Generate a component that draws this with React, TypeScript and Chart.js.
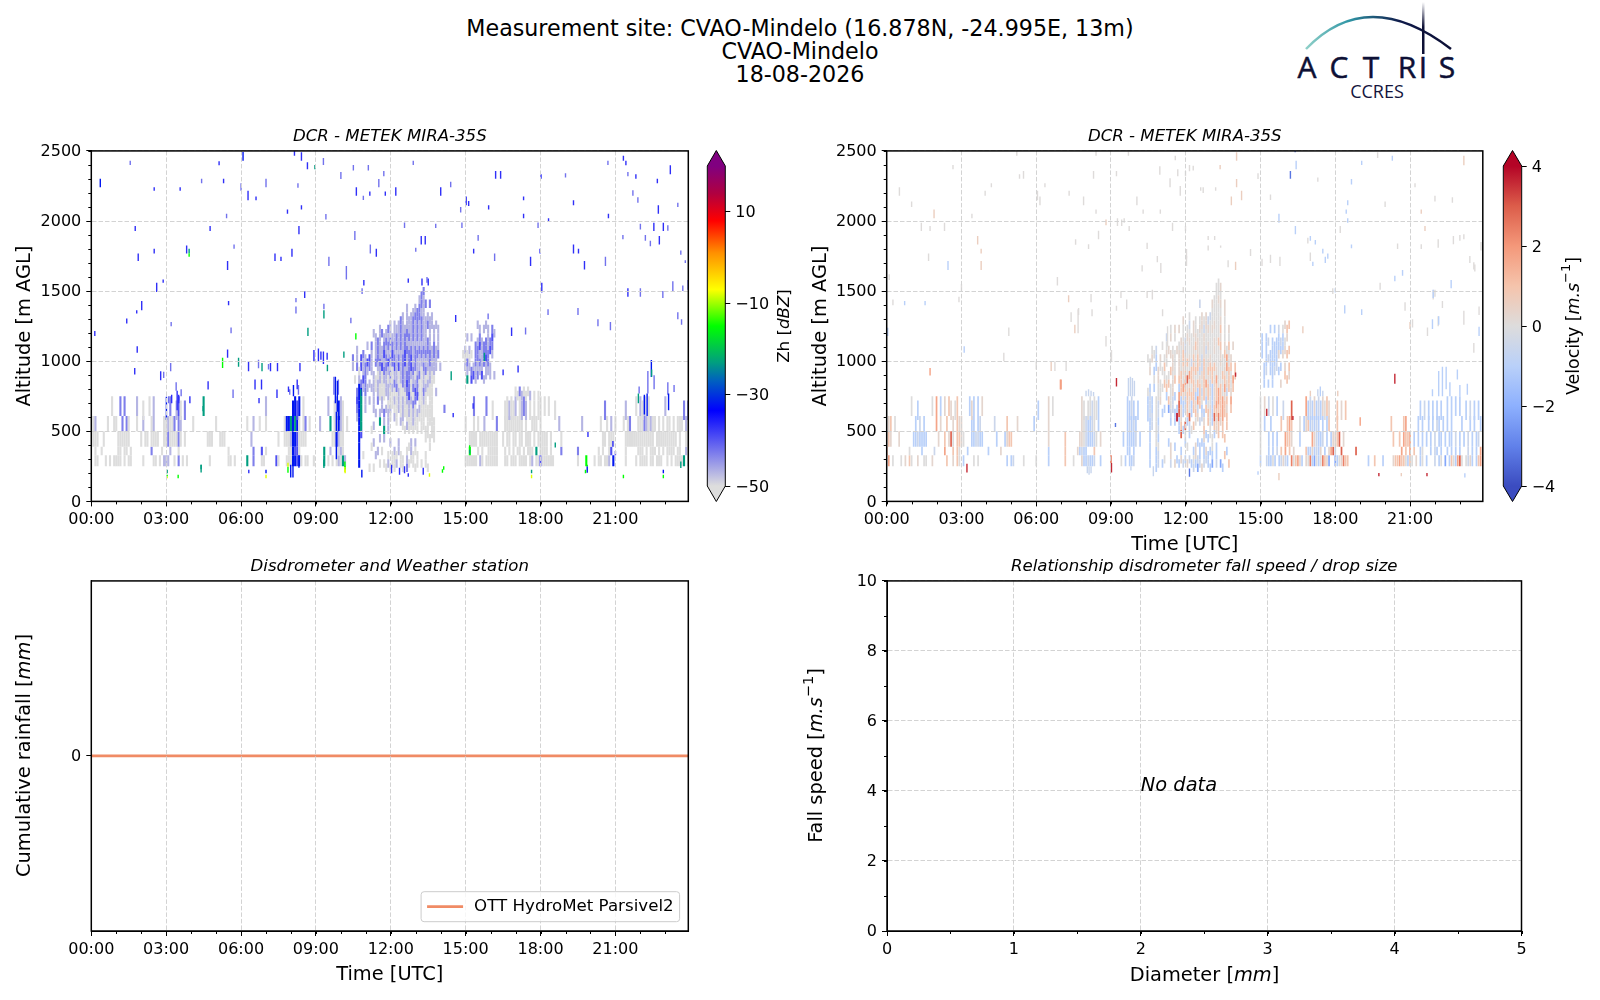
import { useEffect, useRef } from 'react';
import Chart from 'chart.js/auto';

// ---- axes
const timeMax = 23.92;
const timeTicks = [0, 3, 6, 9, 12, 15, 18, 21];
const timeTickLabels = ['00:00', '03:00', '06:00', '09:00', '12:00', '15:00', '18:00', '21:00'];
const altitudeTicks = [0, 500, 1000, 1500, 2000, 2500];
const zhBarTicks = [-50, -30, -10, 10];
const velocityBarTicks = [-4, -2, 0, 2, 4];
const diameterTicks = [0, 1, 2, 3, 4, 5];
const fallSpeedTicks = [0, 2, 4, 6, 8, 10];

// ---- colour maps
const zhStopValues = [-50, -33.5, -27, -23, -15, -7, 1, 8, 14, 20];
const zhStopColors = ['#dddddd', '#0000ff', '#0060c0', '#009e80', '#00ff00', '#ffff00', '#ff9000', '#ff0000', '#b00040', '#800080'];
const velocityStopValues = [-4, -3, -2, -1, 0, 1, 2, 3, 4];
const velocityStopColors = ['#3b4cc0', '#6181ea', '#8db0fe', '#b9d0f9', '#dddcdc', '#f5c4ac', '#f4987a', '#dc5d4a', '#b40426'];

// ---- map letters -> values
const zhCodes: Record<string, number> = { g: -50, l: -47, p: -43, b: -39.5, d: -32, t: -23, G: -15, y: -8 };
const velocityCodes: Record<string, number> = { a: -3.2, B: -2.2, c: -1, e: -0.5, g: 0, h: 0.3, r: 0.9, o: 1.7, O: 2.4, R: 2.9, D: 3.9 };

// ---- reflectivity streaks [hour, low m, high m]
const zhPaleStreaks = [
  [1.56, 2400, 2430], [4.42, 2270, 2302], [6.0, 2215, 2270], [7.0, 2240, 2302], [8.28, 2238, 2270], [5.42, 2020, 2052],
  [9.3, 2400, 2450], [9.52, 1680, 1745], [10.22, 1583, 1679], [10.56, 1864, 1929], [11.18, 1769, 1833], [11.52, 2240, 2300],
  [11.72, 2320, 2357], [5.72, 1802, 1833], [16.16, 1714, 1769], [20.6, 1679, 1745], [3.18, 929, 988], [5.68, 738, 798],
  [9.4, 2010, 2050], [10.0, 2300, 2350], [10.5, 2360, 2400], [10.9, 2150, 2180], [11.1, 2360, 2400], [12.55, 1950, 1990],
  [12.9, 2400, 2430], [13.0, 1780, 1810], [13.8, 1950, 1980], [14.4, 2240, 2280], [14.8, 2060, 2100], [14.85, 1950, 1990],
  [15.5, 1860, 1900], [17.9, 1950, 1990], [19.0, 2310, 2340], [20.7, 2400, 2430], [21.3, 1870, 1900], [21.5, 2320, 2350],
  [21.7, 2180, 2220], [21.9, 2130, 2170], [22.0, 1940, 1980], [22.2, 1860, 1900], [22.4, 1820, 1860], [23.1, 1930, 1970],
  [23.62, 1760, 1790], [23.8, 1700, 1720], [23.5, 2100, 2130], [23.7, 1500, 1540], [23.3, 1500, 1570], [22.9, 1450, 1500],
  [22.0, 1460, 1520], [20.8, 1220, 1280], [20.3, 1250, 1300], [19.5, 1330, 1380], [18.3, 1330, 1370], [17.4, 1190, 1240],
  [9.32, 1370, 1410], [10.4, 1270, 1310], [8.2, 1340, 1390], [8.2, 1420, 1450], [10.85, 1480, 1520], [23.5, 1300, 1350],
  [23.65, 1260, 1300], [5.6, 1200, 1240], [3.2, 1250, 1280], [6.7, 950, 1010], [7.1, 940, 980], [2.9, 880, 925],
  [3.4, 790, 850], [3.1, 700, 750], [15.9, 1300, 1340], [13.45, 1560, 1600], [22.3, 770, 930], [22.55, 800, 900], [21.95, 770, 820],
  [23.1, 760, 850], [23.35, 780, 830], [3.6, 750, 800], [9.72, 760, 890], [9.9, 760, 870], [8.3, 760, 830], [7.95, 760, 800],
];
const zhBlueStreaks = [
  [2.52, 2215, 2240], [3.56, 2215, 2240], [5.3, 2270, 2302], [5.12, 2398, 2426], [6.28, 2148, 2215], [6.6, 2148, 2174],
  [7.86, 2052, 2083], [8.14, 2465, 2500], [8.42, 2083, 2112], [8.42, 2430, 2490], [8.66, 2370, 2420], [10.62, 2180, 2240],
  [11.16, 2180, 2210], [11.78, 2180, 2210], [12.2, 2180, 2240], [14.0, 2180, 2240], [15.02, 2112, 2174], [15.12, 2107, 2143],
  [15.92, 2083, 2112], [16.2, 2302, 2357], [16.4, 2302, 2357], [18.02, 2302, 2333], [17.32, 2148, 2174], [17.32, 2020, 2052],
  [18.32, 1993, 2020], [19.32, 2112, 2148], [20.72, 2020, 2052], [23.2, 2333, 2398], [22.68, 2270, 2302], [22.72, 2052, 2112],
  [22.54, 1929, 1988], [22.92, 1929, 1988], [22.76, 1833, 1893], [21.82, 2302, 2333], [21.32, 2430, 2465], [21.42, 2398, 2430],
  [1.76, 1929, 1964], [4.76, 1929, 1964], [8.32, 1905, 1964], [13.22, 1833, 1893], [13.38, 1833, 1893], [2.52, 1769, 1802],
  [3.82, 1769, 1826], [1.88, 1714, 1769], [7.36, 1714, 1769], [7.6, 1714, 1745], [8.04, 1745, 1802], [11.42, 1745, 1802],
  [15.32, 1769, 1802], [17.98, 1769, 1802], [17.6, 1679, 1745], [19.32, 1769, 1833], [19.52, 1769, 1802], [19.76, 1655, 1714],
  [5.46, 1650, 1714], [2.62, 1493, 1560], [2.88, 1560, 1583], [2.02, 1364, 1429], [1.82, 1340, 1364], [1.42, 1269, 1305],
  [5.5, 1400, 1429], [0.0, 1179, 1245], [0.14, 1179, 1215], [1.84, 1060, 1107], [1.74, 905, 952], [2.78, 864, 929],
  [5.46, 1024, 1083], [18.05, 1490, 1560], [16.84, 1180, 1240], [14.6, 1280, 1330], [23.92, 1510, 1580], [21.5, 1460, 1520],
  [4.68, 798, 857], [6.56, 798, 869], [6.82, 798, 869], [6.72, 700, 738], [7.44, 738, 798], [7.18, 929, 988], [7.46, 929, 988],
  [8.36, 929, 988], [6.3, 929, 1000], [13.25, 1540, 1590], [13.5, 1540, 1590], [12.7, 1560, 1590], [10.92, 1540, 1580],
  [19.9, 460, 500], [20.9, 390, 430], [21.0, 330, 360], [15.3, 660, 700], [14.5, 600, 630], [17.1, 920, 970], [16.5, 900, 940],
  [12.03, 200, 262], [12.7, 175, 200], [6.31, 200, 225], [12.35, 190, 240], [12.55, 200, 250], [13.3, 190, 240], [8.55, 1450, 1500],
  [3.44, 650, 790], [3.5, 700, 760], [3.95, 700, 750], [3.22, 700, 760], [8.92, 1000, 1080], [9.1, 1000, 1090], [9.2, 1010, 1070],
  [9.3, 980, 1070], [9.45, 1010, 1060], [8.25, 800, 870], [7.9, 780, 820],
];
const zhDeepStreaks = [
  [0.36, 2240, 2302], [6.08, 2430, 2493], [7.0, 200, 225], [7.99, 170, 262], [8.08, 170, 262], [8.32, 240, 330],
  [10.84, 170, 225], [8.1, 750, 830], [19.87, 205, 250], [22.92, 200, 225], [22.44, 888, 1009], [22.16, 620, 760], [22.27, 610, 770],
  [23.13, 650, 770], [3.01, 580, 747], [9.78, 700, 890], [9.86, 640, 860], [9.82, 300, 640],
];
const zhTealStreaks = [
  [3.04, 200, 225], [4.4, 230, 262], [8.68, 1180, 1238], [9.32, 1305, 1364], [8.96, 2370, 2400], [3.92, 1770, 1802],
  [10.12, 1024, 1070], [14.42, 864, 929], [6.84, 929, 988], [9.46, 929, 975], [21.92, 700, 770], [23.62, 238, 285],
  [4.48, 643, 680], [4.4, 207, 262], [9.32, 238, 298], [18.59, 385, 420], [5.9, 960, 1024], [22.45, 890, 940], [17.64, 200, 225],
  [15.16, 340, 370], [15.75, 1000, 1060], [10.8, 500, 800],
];
const zhGreenStreaks = [
  [3.92, 1745, 1770], [3.48, 165, 190], [3.04, 178, 190], [7.88, 205, 248], [10.17, 225, 250], [10.6, 1155, 1200],
  [5.26, 952, 1024], [14.07, 205, 230], [15.16, 370, 400], [19.8, 200, 225], [19.87, 250, 262], [21.32, 165, 190],
  [22.92, 165, 190], [10.16, 245, 285], [14.12, 225, 250],
];
const zhYellowStreaks = [
  [3.04, 165, 178], [7.0, 165, 190], [7.88, 248, 275], [10.17, 200, 225], [13.55, 175, 200], [17.64, 165, 190], [10.16, 210, 245],
];

// ---- reflectivity low layers, one string per 3 hours, one letter per 5 minutes
const zhLowEdges = [[250, 330], [330, 390], [390, 500], [500, 610], [610, 750], [750, 820]];
const zhLowRows = [
  ['..gg...g.g.gggg.g.gg.....g....gg.g.l', 'll..g.p.g.g..........g........gg.g..', '...t..p...gg.....bg...gggddbdg.gg..g', '....t.g.g.glgtl.', '', 'gggggg.lg.gggggg...gg.ggg.gggg.gl.gg', 'bgggggg...........g...G...g.gg.ggl.d', '.....g....g.gggg.gg.ggg..g.g.ggggt.g'],
  ['..g..g.......gg.gg.g.........p....g.', '..l...g.......................g.....', '......p...b.g..........ggdbbg.......', '....t..l..gglg', '', '..G...g.g..ggggg...g.g.g.gg.g.ggg.t.', 'gggg.g....p.......p.........g.g..gb.', '.....g.....ggg.g.ggg.g.g.gggg.gg..lg'],
  ['.ggg..g......gggggg.....g.gg.gggg..g', 'gpggggpg.g..........ggg...ggg.......', '.....l............g..ggglddbgggg....', '........ggdlgg..', '', '..gggg.ggggggggg..g.gg.gg.gg.ggg.g.g', 'gggg.g....g...................gg.ggg', '.....gggggggggggggg.gggggggggg.g..gg'],
  ['.gl.....g..gg..p.pg...g..l...gl....g', 'glggp.pl.....g..........g...........', '...g..l..g..g........gddtdtdg.gp.g..', '..l....t.gldlg.g', '', 'g...g.g..l.....p...ggggggggg.g..ggg.', 'g........l..........l........g..g.l.', 'g...g.gp...gggplglgg.g.g.gg.g.ggg.lg'],
  ['..........g...p.p.....l..g..g.l.....', '..p..lbg.p........t.................', '............l............ddbd.g.....', '......l..gldlg..', '', '....p.....p..g.....gglggl.glpl.g.g.g', 'g.g.g..g.......................p....', '.....l....g.lgl.g.......l........p.p'],
  ['', '', '', '', '', '........................ggplgggl.g.g', '', ''],
];

// ---- reflectivity dense cloud from 10:24, 60 m rows, odd columns half a row lower
const denseStartHour = 10.4;
const cloudStartHour = 14.9;
const zhDenseTops = [1560, 1500, 1440, 1380, 1320, 1260, 1200, 1140, 1080, 1020, 960, 900, 840, 780, 720, 660, 600, 540, 480, 420, 360, 300];
const zhDenseRows = [
  '...................................p..........',
  '.................................lpl..........',
  '...........................l...l.pplp.p.......',
  '.........................l.l.llpppll.l.l......',
  '...................l.l.lpl.lllplplpllpll.l....',
  '...........l..lp.lpl.lllpllpllplplpll.l.l.l...',
  '............lpl.lplpllplplplplplplpllpl.l.l...',
  '...l....l.p.lpllplplplplplpplplplplplpllpll...',
  '.p.l.bpl.bl.lpllbplpbplplpblpblpplplplplplp...',
  '.l.p.blpbpl.plpblpblpblblpblpblplllpllplll.l..',
  '....g.lpl.ll.glgpllpgllglplpplpglpglpglgl.....',
  '..g.lpbp.l.lgllgllglgplglplbpgllpgglgllgg.....',
  '...pddlpl.llglgggllglgplgglppgpbpggplggg.l....',
  '...bdt.l.l.l.pglg.lgglglglglblgpbgglg.gg......',
  '...pdt.l...l...l.lglggglglgglgpg.lgggggg.....p',
  '...ldt......l.l.p.lg.lg.glgglglglggggggg......',
  '....dt.....l..t.l.l...g.lg.lgglgg.gg.gggg.....',
  '....db....g.....t.l.......g.g.g.g.g.gg.gg.....',
  '....d......l..l.l..l...l.....l.l....g.g.g.....',
  '....d.....g..l.g.....l.l...ggl.g......g.......',
  '....d.g.....l.....g.ggg.gg.l.gg.g...g.........',
  '....d....g.g..g.gglgggl.gg.pg.ggg.g.gg........',
];
const zhCloudTops = [1320, 1260, 1200, 1140, 1080, 1020, 960, 900];
const zhCloudRows = [
  '.......l...l....',
  '........l.l.l.pl',
  '..l.l..lpl.plpb.',
  '.l.l..ppblpplbp.',
  'ggggg.ppllpbp.l.',
  '.lpl.lplplplpl..',
  '..l.pblplb.lll.l',
  '..t.b.l...l.....',
];

// ---- velocity streaks [hour, low m, high m]
const vGreyStreaks = [
  [0.51, 2180, 2240], [1.39, 1929, 1988], [2.32, 1929, 1988], [1.74, 1929, 1964], [3.42, 2020, 2052], [2.66, 2370, 2400],
  [1.68, 1714, 1769], [4.2, 2240, 2270], [3.95, 2180, 2215], [5.33, 2302, 2333], [5.49, 2302, 2357], [6.15, 2112, 2174],
  [6.05, 2148, 2215], [6.35, 2240, 2270], [7.32, 2180, 2215], [8.3, 2302, 2357], [7.9, 2112, 2174], [8.4, 2052, 2083],
  [9.26, 1964, 2020], [9.53, 1988, 2020], [10.04, 2112, 2174], [10.29, 2052, 2083], [10.98, 2052, 2083], [11.58, 2433, 2465],
  [11.78, 2180, 2250], [11.99, 2320, 2357], [12.15, 2355, 2400], [12.7, 2200, 2240], [12.9, 1864, 1893], [13.16, 1864, 1893],
  [11.47, 1929, 1988], [11.99, 1929, 1964], [12.03, 1733, 1800], [12.9, 1790, 1826], [13.4, 1810, 1826], [4.9, 1180, 1240],
  [6.0, 940, 1000], [6.75, 930, 1000], [7.2, 930, 1000], [9.0, 1000, 1060], [4.7, 1000, 1060], [2.9, 1420, 1460],
  [19.8, 1510, 1560], [20.8, 1360, 1420], [21.7, 1180, 1240], [22.0, 1460, 1510], [22.3, 1380, 1430], [23.0, 1860, 1900],
  [23.4, 1700, 1750], [23.6, 1640, 1690], [23.85, 1790, 1850], [22.7, 2130, 2170], [22.0, 2140, 2180], [21.2, 2240, 2270],
  [0.1, 1580, 1620], [3.0, 1500, 1550], [6.85, 1540, 1600], [8.2, 1420, 1480], [9.4, 1450, 1500], [7.7, 1330, 1380],
  [16.9, 1840, 1880], [15.4, 1700, 1760], [14.6, 1750, 1800], [13.7, 1670, 1720], [11.9, 1490, 1530], [7.4, 1280, 1350],
  [5.22, 2465, 2500], [8.4, 2465, 2500], [9.7, 2465, 2495], [9.22, 2320, 2357], [10.96, 2330, 2390], [11.37, 2240, 2305],
  [11.68, 2320, 2370], [12.3, 2360, 2395], [12.6, 2215, 2240], [13.2, 2215, 2240], [9.43, 1965, 2010], [9.73, 1929, 1965],
  [8.1, 1800, 1835], [7.58, 1830, 1870], [8.5, 1870, 1930], [10.45, 1800, 1845], [10.86, 1705, 1750], [12.03, 1680, 1750],
  [15.06, 1680, 1730], [15.78, 1680, 1745], [17.0, 1715, 1775], [18.2, 1915, 1965], [21.45, 1800, 1835], [22.13, 1810, 1870],
  [22.74, 1835, 1893], [23.16, 1870, 1905], [23.56, 1655, 1705], [10.25, 1640, 1685], [11.0, 1630, 1700], [9.22, 1360, 1395],
  [9.63, 1370, 1440], [9.02, 1000, 1080], [7.68, 1200, 1370], [8.24, 1320, 1370], [8.8, 1105, 1180], [11.07, 1320, 1370],
  [10.66, 1440, 1510], [10.45, 1450, 1500], [11.27, 1105, 1250], [17.9, 1480, 1520], [21.93, 1440, 1510], [23.16, 1260, 1360],
  [23.77, 1330, 1390], [21.1, 1240, 1300], [22.13, 1250, 1320], [23.56, 1060, 1130], [1.0, 2100, 2140], [0.25, 1400, 1440],
  [14.9, 2300, 2340], [15.4, 2150, 2190], [17.3, 2280, 2310], [19.7, 2450, 2490], [20.0, 2100, 2140], [20.5, 1800, 1840],
];
const vPeachStreaks = [
  [1.9, 2020, 2083], [3.65, 1833, 1893], [3.79, 1769, 1802], [3.79, 1650, 1714], [14.04, 2430, 2490], [13.38, 2370, 2400],
  [13.83, 2112, 2174], [14.24, 2148, 2215], [14.04, 2240, 2300], [6.6, 930, 1000], [23.16, 2398, 2465],
  [21.45, 2052, 2083], [21.6, 1929, 1964], [20.65, 179, 202], [15.74, 150, 202], [7.3, 1420, 1470], [14.0, 1650, 1710],
  [7.55, 1200, 1260], [16.7, 1200, 1250], [21.0, 1230, 1280], [8.8, 1970, 2010], [17.0, 750, 790], [18.1, 750, 790],
];
const vBlueStreaks = [
  [2.46, 1650, 1714], [0.72, 1400, 1430], [1.54, 1400, 1430], [3.11, 1060, 1107], [0.04, 1179, 1238], [16.43, 2370, 2430],
  [18.5, 2112, 2148], [18.44, 2052, 2083], [18.5, 1988, 2020], [16.4, 1905, 1964], [15.74, 1988, 2052], [17.0, 1860, 1893],
  [17.2, 1833, 1864], [17.5, 1769, 1802], [17.6, 1700, 1745], [17.7, 1730, 1769], [17.1, 1680, 1710], [18.65, 2260, 2300],
  [18.65, 1805, 1833], [19.06, 2400, 2430], [20.29, 2430, 2465], [18.38, 1340, 1400], [19.06, 1330, 1370], [20.39, 1570, 1610],
  [20.7, 1610, 1650], [21.93, 1450, 1510], [22.65, 1520, 1580], [23.77, 1179, 1245], [21.9, 1230, 1300], [22.15, 1260, 1320],
  [18.0, 1490, 1520], [22.9, 870, 940], [23.2, 170, 200], [14.9, 190, 215], [22.15, 750, 930], [22.3, 750, 960], [22.45, 800, 960],
  [22.6, 750, 850], [21.9, 750, 800], [23.0, 750, 830], [23.3, 760, 840], [17.4, 750, 820],
];
const vPaleBlueStreaks = [
  [9.7, 750, 880], [9.78, 750, 890], [9.86, 750, 880], [9.94, 750, 860], [8.0, 750, 790], [8.1, 750, 800], [8.2, 750, 790], [8.3, 750, 780],
  [8.05, 200, 250], [8.12, 190, 250], [8.2, 200, 250], [9.8, 220, 250], [10.7, 180, 250], [17.3, 750, 800], [17.5, 750, 790],
];
const vDeepStreaks = [[16.39, 2490, 2500], [16.2, 2302, 2357], [12.15, 175, 235], [9.18, 530, 560]];
const vRedStreaks = [
  [3.22, 207, 269], [19.75, 179, 202], [21.68, 179, 202], [9.22, 820, 880], [9.02, 207, 274], [20.39, 840, 910],
  [14.0, 890, 920], [15.25, 610, 660], [16.3, 580, 610],
];
const vSalmonStreaks = [[1.74, 898, 952], [19.0, 540, 600], [6.97, 798, 869], [7.0, 798, 869]];

// ---- velocity low layers
const vLowEdges = [[250, 330], [330, 390], [390, 500], [500, 610], [610, 750]];
const vLowRows = [
  ['.o.g...g.h.rg..h..gg..h......r..h.rg', '.c....g.g.............c.ce....g.....g', '......c.......r...g...hccecce..c....', 'O....g.c.cce....', '', 'c..eccgc.cehec.Ogrohc.hgOcBgcgOrhB.', 'BcghOrr.........c..r...c....hrrorrgc', 'rg.h.cg.c...e.cg.B.crgcoRg.gehc.cro'],
  ['o..........g.....c.....e....o...r.rg', '...c.........c.....h................', '......c.......r.....hcecc...r.......', '........cc.c....', '', 'g...c.c.e.r.o.r.h.....rcchcech.c.hoR', 'e..R......R.....................o.r.', 'o.r..cg...c.ec.c..c.c.c.c...e.c.c.o'],
  ['hrh...h......ccecccc.....h..r.hRg.rr', 'hg...cceecc......c...chrr...........', '......h.......r......hhgeccceg.h....', '......c.cccce.c.', '', 'g...c.c.c...orrh...c.....ohecce.c.ch', 'hrR.h.......................r..r.orr', 'o.c.c.c.c.c.e.cc.c.cc.e.c.c.e.c.ce'],
  ['.hr.g.........c.e.c.....o.h..r..h.rh', 'h....cc.ce......e.....r....h.......c', '......h...............hgecceg.c.....', '........cecec...', '', 'g.c..c....r..ror...g.chrcecec.c.cr..', '.r.........................r.....ro.', '....c.c..c.c.ec.c.c.c....c...c.c..c'],
  ['............g..c......g.o.c.h.rh.gr.', '....chc.c.h.........................', '.c....h.g.............hg.ggeggc.....', '........ccec.c..', '', 'g.h.e.g.c..e...R......ocechcechgrh..', '.r.h.r..............................', '.....c.e.c.c.c.c..c.c.c.c..c.e.c.c'],
];

// ---- velocity dense cloud
const vDenseTops = [1620, 1560, 1500, 1440, 1380, 1320, 1260, 1200, 1140, 1080, 1020, 960, 900, 840, 780, 720, 660, 600, 540, 480, 420, 360, 300];
const vDenseRows = [
  '...................................g..........',
  '..................................ggh.........',
  '.................................gghg.........',
  '..........................e.....hgggh.h.......',
  '.....................g.....h.h.eggggg.h.......',
  '..................h..e.hg.ghghegghggh.g.......',
  '............g.h.h.g.gg.hgghgeghghgggr.g.h.....',
  '..........e.h.g..hgehhgghhgghgggghgrh.g.g.....',
  '...g.e..g.gh.g.hggheggghrhgghehgghggr.hgr.h...',
  '.g.hgc.h.gh.hhg.hgrhghgrgrgehgghgggghgrogh....',
  '..g..c.g.rg..hg.hgrhrgergrherghrgrgghggogr.r..',
  '..h.c.h.gg.grgg.hrhrgorhrgehrgrhrghggrhgrg.r..',
  '....g.hg.rgr.hr.rrgoRhrrgrhgroherhogggrhrgo...',
  '.gc.c.ggg.r.gh..crorhrgrhcrergrhchrorgoerhr...',
  '.cec.ggh..crgec.ochcrhrrcorgrcrgchrorohr.o....',
  '.cec.ge..c.Bge.cRhcergcrherc.rghcrorrorh.r....',
  '.cee.ge.c...e.cDRhc.rRc.rh.ec.rgcRrOrorr......',
  '..ce.gc.....c.c.cr.Rce.rg.e.h.rgcrhrhr.r......',
  '..c..ge.........cRcg.cg.....rc.g.chr.r........',
  '..c..gc....c.......c.....c.ch.c.g.....r.......',
  '..c..cg.....h.c..c..g..ch.c.ch.cg.c....c......',
  '..c..ce..g..h..c.h.c.e.ghec.cec.c.c...r.......',
  '..c..ce.c...e.h.c.e.h.cecBehe.ccB.e.Bc..r.....',
];
const vCloudTops = [1320, 1260, 1200, 1140, 1080, 1020, 960, 900];
const vCloudRows = [
  '.............h.r',
  '......c.c.e.g.r.',
  '..c.ce.c.ccecgh.',
  '..c.c..cccccch.r',
  '..c.cecccch.h.r.',
  '...cc.ccce.c.h.r',
  '...ce.cce.c..r.h',
  '...c.c.c...h..r.',
];

// ---- rainfall series and labels
const rainHours = [0, 6, 12, 18, 23.92];
const rainMm = [0, 0, 0, 0, 0];
const rainLabel = 'OTT HydroMet Parsivel2';
const fallSpeedPoints: { x: number; y: number }[] = [];
const noDataText = 'No data';
const suptitleLines = ['Measurement site: CVAO-Mindelo (16.878N, -24.995E, 13m)', 'CVAO-Mindelo', '18-08-2026'];
const logoLetters: [string, number][] = [['A', 67], ['C', 99], ['T', 131], ['R', 167], ['I', 183], ['S', 207]];

type Seg = [string, number?, number?];
const zhBarLabel: Seg[] = [['Zh ['], ['dBZ', 1], [']']];
const velocityBarLabel: Seg[] = [['Velocity ['], ['m.s', 1], ['\u22121', 0, 1], [']']];
const fallSpeedLabel: Seg[] = [['Fall speed ['], ['m.s', 1], ['\u22121', 0, 1], [']']];
const rainAxisLabel: Seg[] = [['Cumulative rainfall ['], ['mm', 1], [']']];
const diameterLabel: Seg[] = [['Diameter ['], ['mm', 1], [']']];

Chart.defaults.font.family = '"DejaVu Sans"';
Chart.defaults.color = '#000';

const FONT = 'DejaVu Sans';
const tickFont = { size: 16 };
const labelFont = { size: 19.4 };
const gridGrey = '#d3d3d3';
const gridDash = [4.5, 2];
const STEP = 1 / 12;

function hexRgb(hex: string) {
  return [1, 3, 5].map((i) => parseInt(hex.slice(i, i + 2), 16));
}

function colorAt(values: number[], colors: string[], v: number) {
  let i = 0;
  while (i < values.length - 2 && v > values[i + 1]) i++;
  const t = Math.min(1, Math.max(0, (v - values[i]) / (values[i + 1] - values[i])));
  const a = hexRgb(colors[i]);
  const b = hexRgb(colors[i + 1]);
  return `rgb(${a.map((c, k) => Math.round(c + (b[k] - c) * t)).join(',')})`;
}

type Cell = { x: number; y: [number, number]; v: number };

function streakCells(list: number[][], v: number): Cell[] {
  return list.map(([x, lo, hi]) => ({ x, y: [lo, hi], v }));
}

// gates are staggered so the coarse rows do not show as horizontal bands
function rowCells(row: string, lo: number, hi: number, start: number, codes: Record<string, number>, stagger: number) {
  const out: Cell[] = [];
  [...row].forEach((ch, i) => {
    const drop = i % 2 ? stagger : 0;
    if (ch in codes) out.push({ x: start + i * STEP, y: [lo - drop, hi - drop], v: codes[ch] });
  });
  return out;
}

function lowCells(rows: string[][], edges: number[][], codes: Record<string, number>) {
  return rows.flatMap((segs, r) => segs.flatMap((s, k) => rowCells(s, edges[r][0], edges[r][1], k * 3, codes, r > 3 ? 30 : 0)));
}

function mapCells(rows: string[], tops: number[], start: number, codes: Record<string, number>) {
  return rows.flatMap((s, r) => rowCells(s, tops[r] - 60, tops[r], start, codes, 30));
}

const zhMapCells: Cell[] = [
  ...lowCells(zhLowRows, zhLowEdges, zhCodes),
  ...mapCells(zhDenseRows, zhDenseTops, denseStartHour, zhCodes),
  ...mapCells(zhCloudRows, zhCloudTops, cloudStartHour, zhCodes),
];
const zhStreakCells: Cell[] = [
  ...streakCells(zhPaleStreaks, -42),
  ...streakCells(zhBlueStreaks, -37),
  ...streakCells(zhDeepStreaks, -32),
  ...streakCells(zhTealStreaks, -23),
  ...streakCells(zhGreenStreaks, -15),
  ...streakCells(zhYellowStreaks, -8),
];

const velocityMapCells: Cell[] = [
  ...lowCells(vLowRows, vLowEdges, velocityCodes),
  ...mapCells(vDenseRows, vDenseTops, denseStartHour, velocityCodes),
  ...mapCells(vCloudRows, vCloudTops, cloudStartHour, velocityCodes),
];
const velocityStreakCells: Cell[] = [
  ...streakCells(vGreyStreaks, 0.05),
  ...streakCells(vPeachStreaks, 0.6),
  ...streakCells(vBlueStreaks, -1),
  ...streakCells(vPaleBlueStreaks, -0.6),
  ...streakCells(vDeepStreaks, -3.2),
  ...streakCells(vRedStreaks, 3.6),
  ...streakCells(vSalmonStreaks, 1.8),
];

// box round the axes and the small ticks matplotlib puts between the big ones
function axesFrame(xMinor: number, yMinor: number) {
  return {
    id: 'axesFrame',
    afterDraw(chart: any) {
      const { ctx, chartArea: a, scales } = chart;
      ctx.save();
      ctx.strokeStyle = '#000';
      ctx.lineWidth = 1;
      for (let v = scales.x.min; xMinor && v <= scales.x.max; v += xMinor) {
        const px = Math.round(scales.x.getPixelForValue(v)) + 0.5;
        ctx.beginPath();
        ctx.moveTo(px, a.bottom);
        ctx.lineTo(px, a.bottom + 3);
        ctx.stroke();
      }
      for (let v = scales.y.min; yMinor && v <= scales.y.max; v += yMinor) {
        const py = Math.round(scales.y.getPixelForValue(v)) + 0.5;
        ctx.beginPath();
        ctx.moveTo(a.left, py);
        ctx.lineTo(a.left - 3, py);
        ctx.stroke();
      }
      ctx.lineWidth = 1.5;
      ctx.strokeRect(a.left, a.top, a.right - a.left, a.bottom - a.top);
      ctx.restore();
    },
  };
}

function richLabel(segs: Seg[], x: number, y: number, size: number, vertical: boolean) {
  return {
    id: 'richLabel',
    afterDraw(chart: any) {
      const { ctx } = chart;
      const fontOf = (s: Seg) => `${s[1] ? 'italic ' : ''}${s[2] ? size * 0.75 : size}px "${FONT}"`;
      let total = 0;
      segs.forEach((s) => {
        ctx.font = fontOf(s);
        total += ctx.measureText(s[0]).width;
      });
      ctx.save();
      ctx.translate(x, y);
      if (vertical) ctx.rotate(-Math.PI / 2);
      ctx.fillStyle = '#000';
      ctx.textBaseline = 'middle';
      ctx.textAlign = 'left';
      let pos = -total / 2;
      segs.forEach((s) => {
        ctx.font = fontOf(s);
        ctx.fillText(s[0], pos, s[2] ? -size * 0.4 : 0);
        pos += ctx.measureText(s[0]).width;
      });
      ctx.restore();
    },
  };
}

const cornerLegend = {
  id: 'cornerLegend',
  afterDraw(chart: any) {
    const { ctx, chartArea: a } = chart;
    const ds = chart.data.datasets[0];
    ctx.save();
    ctx.font = `16.67px "${FONT}"`;
    const w = ctx.measureText(ds.label).width + 59;
    const h = 30;
    const left = a.right - 8.7 - w;
    const top = a.bottom - 9.3 - h;
    ctx.beginPath();
    ctx.roundRect(left, top, w, h, 3);
    ctx.fillStyle = 'rgba(255,255,255,0.8)';
    ctx.fill();
    ctx.strokeStyle = '#cccccc';
    ctx.lineWidth = 1;
    ctx.stroke();
    ctx.strokeStyle = ds.borderColor;
    ctx.lineWidth = ds.borderWidth;
    ctx.beginPath();
    ctx.moveTo(left + 6, top + h / 2);
    ctx.lineTo(left + 42, top + h / 2);
    ctx.stroke();
    ctx.fillStyle = '#000';
    ctx.textBaseline = 'middle';
    ctx.fillText(ds.label, left + 53, top + h / 2);
    ctx.restore();
  },
};

const noDataNote = {
  id: 'noDataNote',
  afterDraw(chart: any) {
    const { ctx, scales } = chart;
    ctx.save();
    ctx.font = `italic 19.4px "${FONT}"`;
    ctx.fillStyle = '#000';
    ctx.textBaseline = 'alphabetic';
    ctx.fillText(noDataText, scales.x.getPixelForValue(2), scales.y.getPixelForValue(4));
    ctx.restore();
  },
};

function barEnds(lowColor: string, highColor: string) {
  return {
    id: 'barEnds',
    afterDraw(chart: any) {
      const { ctx, chartArea: a } = chart;
      const mid = (a.left + a.right) / 2;
      const tip = 15.5;
      ctx.save();
      ctx.fillStyle = highColor;
      ctx.beginPath();
      ctx.moveTo(a.left, a.top);
      ctx.lineTo(mid, a.top - tip);
      ctx.lineTo(a.right, a.top);
      ctx.closePath();
      ctx.fill();
      ctx.fillStyle = lowColor;
      ctx.beginPath();
      ctx.moveTo(a.left, a.bottom);
      ctx.lineTo(mid, a.bottom + tip);
      ctx.lineTo(a.right, a.bottom);
      ctx.closePath();
      ctx.fill();
      ctx.strokeStyle = '#000';
      ctx.lineWidth = 1;
      ctx.beginPath();
      ctx.moveTo(a.left, a.top);
      ctx.lineTo(mid, a.top - tip);
      ctx.lineTo(a.right, a.top);
      ctx.lineTo(a.right, a.bottom);
      ctx.lineTo(mid, a.bottom + tip);
      ctx.lineTo(a.left, a.bottom);
      ctx.closePath();
      ctx.stroke();
      ctx.restore();
    },
  };
}

function fixedTicks(values: number[]) {
  return (scale: any) => {
    scale.ticks = values.map((value) => ({ value }));
  };
}

function timeAxis(height: number, title?: string, titlePad = 0) {
  return {
    type: 'linear',
    min: 0,
    max: timeMax,
    bounds: 'data',
    offset: false,
    grid: { offset: false, color: gridGrey, tickColor: '#000', tickLength: 5, z: 1 },
    border: { dash: gridDash, color: '#000', z: 2 },
    ticks: { font: tickFont, padding: 4, maxRotation: 0, autoSkip: false, callback: (_v: any, i: number) => timeTickLabels[i] },
    title: title ? { display: true, text: title, font: labelFont, padding: { top: 0, bottom: titlePad } } : { display: false },
    afterBuildTicks: fixedTicks(timeTicks),
    afterFit: (s: any) => {
      s.height = height;
    },
  };
}

function yAxis(width: number, min: number, max: number, ticks: number[], title?: string, titlePad = 0, withGrid = true) {
  return {
    type: 'linear',
    min,
    max,
    bounds: 'data',
    grid: { display: true, color: withGrid ? gridGrey : 'transparent', tickColor: '#000', tickLength: 5, z: 1 },
    border: { dash: gridDash, color: '#000', z: 2 },
    ticks: { font: tickFont, padding: 5, labelOffset: 1, autoSkip: false, callback: (v: number) => `${v}` },
    title: title ? { display: true, text: title, font: labelFont, padding: { top: titlePad, bottom: 0 } } : { display: false },
    afterBuildTicks: fixedTicks(ticks),
    afterFit: (s: any) => {
      s.width = width;
    },
  };
}

const baseOptions = {
  responsive: false,
  animation: false,
  devicePixelRatio: 1,
};

function panelTitle(text: string) {
  return {
    display: true,
    fullSize: false,
    text,
    color: '#000',
    font: { size: 16.6, style: 'italic', weight: 'normal' },
    padding: { top: 2, bottom: 4 },
  };
}

function radarDataset(cells: Cell[], stops: number[], colors: string[], barThickness: number) {
  return {
    data: cells.map((c) => ({ x: c.x, y: c.y })),
    backgroundColor: cells.map((c) => colorAt(stops, colors, c.v)),
    barThickness,
    grouped: false,
    borderWidth: 0,
    inflateAmount: 0,
  };
}

function radarConfig(streaks: Cell[], map: Cell[], mapWidth: number, stops: number[], colors: string[], xAxis: any, y: any, right: number) {
  return {
    type: 'bar',
    data: { datasets: [radarDataset(streaks, stops, colors, 1.4), radarDataset(map, stops, colors, mapWidth)] },
    options: {
      ...baseOptions,
      layout: { padding: { right } },
      plugins: { legend: { display: false }, tooltip: { enabled: false }, title: panelTitle('DCR - METEK MIRA-35S') },
      scales: { x: xAxis, y },
    },
    plugins: [axesFrame(1, 100)],
  };
}

function colorBarConfig(stops: number[], colors: string[], ticks: number[], extra: any, padLeft: number, axisWidth: number) {
  return {
    type: 'bar',
    data: {
      labels: [''],
      datasets: [
        {
          data: [[stops[0], stops[stops.length - 1]]],
          barPercentage: 1,
          categoryPercentage: 1,
          borderWidth: 0,
          inflateAmount: 0,
          backgroundColor: (c: any) => {
            const { chart } = c;
            if (!chart.chartArea) return colors[0];
            const y = chart.scales.y;
            const low = y.getPixelForValue(stops[0]);
            const high = y.getPixelForValue(stops[stops.length - 1]);
            const g = chart.ctx.createLinearGradient(0, low, 0, high);
            stops.forEach((v, i) => g.addColorStop((v - stops[0]) / (stops[stops.length - 1] - stops[0]), colors[i]));
            return g;
          },
        },
      ],
    },
    options: {
      ...baseOptions,
      layout: { padding: { left: padLeft, top: 26, bottom: 26 } },
      plugins: { legend: { display: false }, tooltip: { enabled: false } },
      scales: {
        x: { display: false, grid: { display: false } },
        y: {
          position: 'right',
          min: stops[0],
          max: stops[stops.length - 1],
          bounds: 'data',
          grid: { drawOnChartArea: false, tickColor: '#000', tickLength: 5 },
          border: { display: false },
          ticks: {
            font: tickFont,
            padding: 5,
            labelOffset: 1.5,
            autoSkip: false,
            callback: (v: number) => (v < 0 ? `\u2212${-v}` : `${v}`),
          },
          afterBuildTicks: fixedTicks(ticks),
          afterFit: (s: any) => {
            s.width = axisWidth;
          },
        },
      },
    },
    plugins: [barEnds(colors[0], colors[colors.length - 1]), extra],
  };
}

function zhConfig() {
  return radarConfig(
    zhStreakCells,
    zhMapCells,
    2.1,
    zhStopValues,
    zhStopColors,
    timeAxis(58.6),
    yAxis(91.3, 0, 2500, altitudeTicks, 'Altitude [m AGL]', 12.9),
    91.7,
  );
}

function velocityConfig() {
  return radarConfig(
    velocityStreakCells,
    velocityMapCells,
    1.7,
    velocityStopValues,
    velocityStopColors,
    timeAxis(58.6, 'Time [UTC]', 3.4),
    yAxis(96.7, 0, 2500, altitudeTicks, 'Altitude [m AGL]', 19.4),
    97.2,
  );
}

function rainConfig() {
  return {
    type: 'line',
    data: {
      datasets: [
        {
          label: rainLabel,
          data: rainHours.map((x, i) => ({ x, y: rainMm[i] })),
          borderColor: '#f08b65',
          borderWidth: 2.8,
          pointRadius: 0,
          clip: false,
        },
      ],
    },
    options: {
      ...baseOptions,
      layout: { padding: { right: 91.7 } },
      plugins: { legend: { display: false }, tooltip: { enabled: false }, title: panelTitle('Disdrometer and Weather station') },
      scales: {
        x: timeAxis(64, 'Time [UTC]', 8),
        y: yAxis(91.3, -1, 1, [0], undefined, 0, false),
      },
    },
    plugins: [axesFrame(1, 0), richLabel(rainAxisLabel, 25, 200.5, 19.4, true), cornerLegend],
  };
}

function fallSpeedConfig() {
  return {
    type: 'scatter',
    data: { datasets: [{ data: fallSpeedPoints, pointRadius: 2 }] },
    options: {
      ...baseOptions,
      layout: { padding: { right: 97.5 } },
      plugins: { legend: { display: false }, tooltip: { enabled: false }, title: panelTitle('Relationship disdrometer fall speed / drop size') },
      scales: {
        x: {
          type: 'linear',
          min: 0,
          max: 5,
          bounds: 'data',
          grid: { color: gridGrey, tickColor: '#000', tickLength: 5, z: 1 },
          border: { dash: gridDash, color: '#000', z: 2 },
          ticks: { font: tickFont, padding: 4, autoSkip: false, maxRotation: 0 },
          afterBuildTicks: fixedTicks(diameterTicks),
          afterFit: (s: any) => {
            s.height = 64;
          },
        },
        y: yAxis(97, 0, 10, fallSpeedTicks),
      },
    },
    plugins: [
      axesFrame(0.5, 1),
      richLabel(fallSpeedLabel, 27, 200.5, 19.4, true),
      richLabel(diameterLabel, 414.5, 420.5, 19.4, false),
      noDataNote,
    ],
  };
}

function ChartCanvas({ left, top, width, height, makeConfig }: any) {
  const ref = useRef<HTMLCanvasElement>(null);

  useEffect(() => {
    if (!ref.current) return;
    const chart = new Chart(ref.current, makeConfig());
    return () => chart.destroy();
  }, [makeConfig]);

  return <canvas ref={ref} width={width} height={height} style={{ position: 'absolute', left, top, width, height }} />;
}

const zhBarConfig = () =>
  colorBarConfig(zhStopValues, zhStopColors, zhBarTicks, richLabel(zhBarLabel, 84.2, 186, 16.67, true), 7.3, 74.7);
const velocityBarConfig = () =>
  colorBarConfig(velocityStopValues, velocityStopColors, velocityBarTicks, richLabel(velocityBarLabel, 79, 186, 17.4, true), 8.3, 73.3);

function Logo() {
  return (
    <svg width={240} height={110} style={{ position: 'absolute', left: 1240, top: 0 }}>
      <defs>
        <linearGradient id="arc" gradientUnits="userSpaceOnUse" x1={66} y1={0} x2={211} y2={0}>
          <stop offset="0" stopColor="#8fd0c8" />
          <stop offset="0.3" stopColor="#2f95a5" />
          <stop offset="0.65" stopColor="#0f1a4a" />
          <stop offset="1" stopColor="#0d1035" />
        </linearGradient>
        <linearGradient id="mast" gradientUnits="userSpaceOnUse" x1={0} y1={2} x2={0} y2={52}>
          <stop offset="0" stopColor="#ffffff" />
          <stop offset="0.5" stopColor="#0d1035" />
        </linearGradient>
      </defs>
      <path d="M66,49 Q127.5,-15 211,49" fill="none" stroke="url(#arc)" strokeWidth={2.5} />
      <rect x={182} y={2} width={2.5} height={52} fill="url(#mast)" />
      {logoLetters.map(([ch, x]) => (
        <text key={ch} x={x} y={78} textAnchor="middle" fill="#0d1035" stroke="#0d1035" strokeWidth={0.5} style={{ font: '400 30px "Open Sans"' }}>
          {ch}
        </text>
      ))}
      <text x={137} y={98} textAnchor="middle" fill="#14143c" style={{ font: '18px "Open Sans"' }}>
        CCRES
      </text>
    </svg>
  );
}

export default function App() {
  return (
    <div style={{ position: 'absolute', left: 0, top: 0, width: 1600, height: 1000, background: '#fff', overflow: 'hidden' }}>
      <div style={{ position: 'absolute', left: 0, top: 17, width: 1600, textAlign: 'center', font: '22.2px/23px "DejaVu Sans"', color: '#000' }}>
        {suptitleLines.map((line) => (
          <div key={line}>{line}</div>
        ))}
      </div>
      <Logo />
      <ChartCanvas left={0} top={125} width={780} height={435} makeConfig={zhConfig} />
      <ChartCanvas left={700} top={140} width={100} height={372} makeConfig={zhBarConfig} />
      <ChartCanvas left={790} top={125} width={790} height={435} makeConfig={velocityConfig} />
      <ChartCanvas left={1495} top={140} width={100} height={372} makeConfig={velocityBarConfig} />
      <ChartCanvas left={0} top={555} width={780} height={440} makeConfig={rainConfig} />
      <ChartCanvas left={790} top={555} width={829} height={440} makeConfig={fallSpeedConfig} />
    </div>
  );
}
